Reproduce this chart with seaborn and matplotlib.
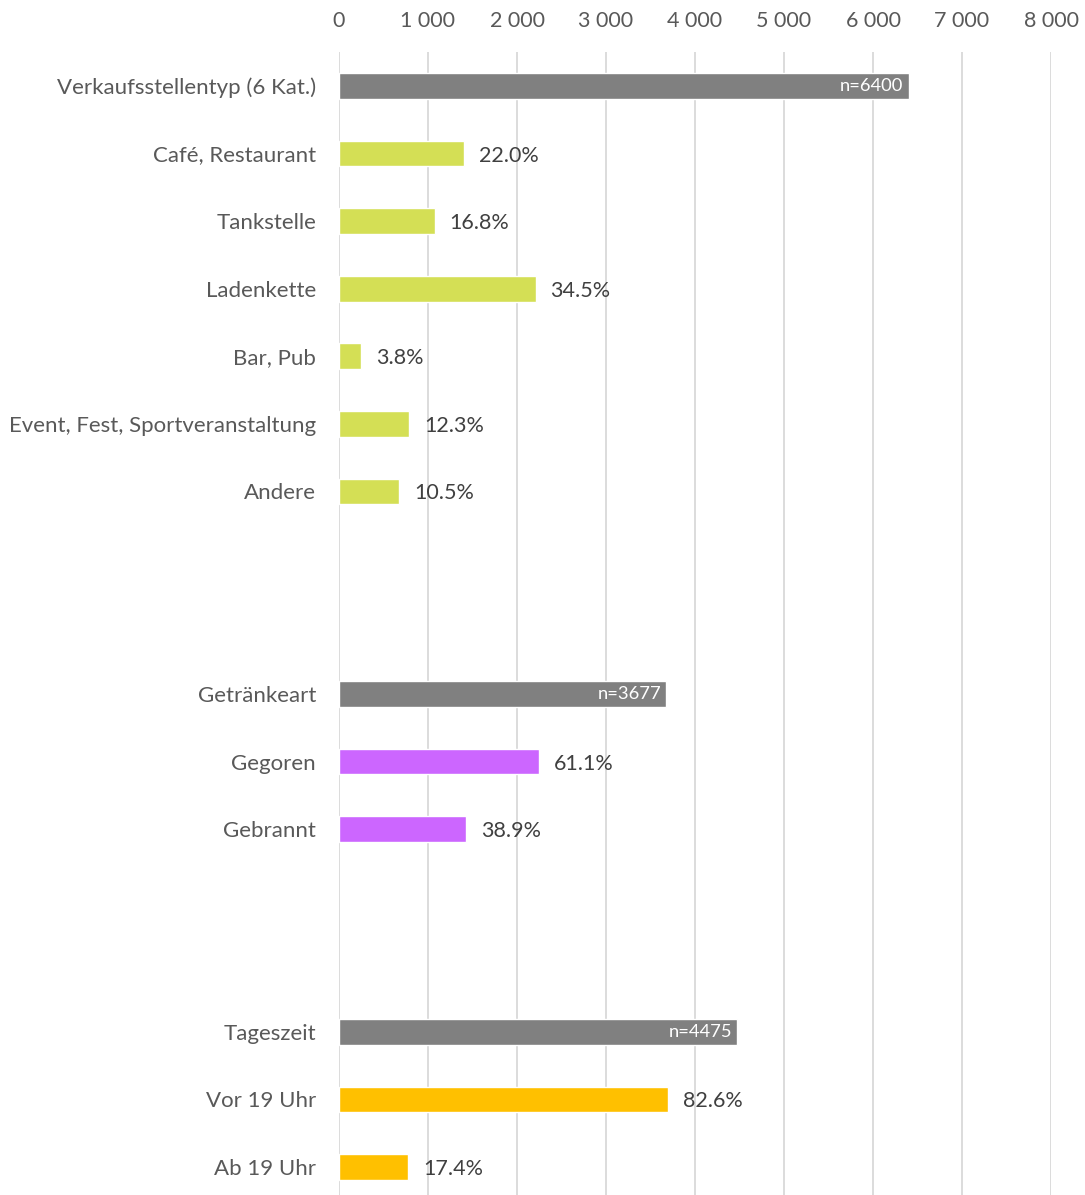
import matplotlib
matplotlib.use("Agg")
import matplotlib.pyplot as plt
import seaborn as sns
import pandas as pd

# Data
categories = ["Verkaufsstellentyp (6 Kat.)", "Café, Restaurant", "Tankstelle", "Ladenkette",
              "Bar, Pub", "Event, Fest, Sportveranstaltung", "Andere",
              "Getränkeart", "Gegoren", "Gebrannt",
              "Tageszeit", "Vor 19 Uhr", "Ab 19 Uhr"]
values = [6400, 1408, 1075, 2208, 243, 787, 672,
          3677, 2247, 1430,
          4475, 3696, 779]
groups = ["total", "venue", "venue", "venue", "venue", "venue", "venue",
          "total", "drink", "drink",
          "total", "time", "time"]
labels = ["n=6400", "22.0%", "16.8%", "34.5%", "3.8%", "12.3%", "10.5%",
          "n=3677", "61.1%", "38.9%",
          "n=4475", "82.6%", "17.4%"]
xticks = [0, 1000, 2000, 3000, 4000, 5000, 6000, 7000, 8000]

palette = {"total": "#808080", "venue": "#D4DF55", "drink": "#CC66FF", "time": "#FFC000"}

order = (categories[:7] + [" ", "  "] + categories[7:10] + ["   ", "    "] + categories[10:])

df = pd.DataFrame({"cat": categories, "val": values, "grp": groups, "lab": labels})

sns.set_style("white")
plt.rcParams["font.family"] = ["Lato", "DejaVu Sans"]

W, H = 1085, 1195
fig = plt.figure(figsize=(W / 100, H / 100), dpi=100)
ax_left, ax_right = 339, 1051
ax_top, ax_bot = 52.2, 1195
ax = fig.add_axes([ax_left / W, 1 - ax_bot / H, (ax_right - ax_left) / W, (ax_bot - ax_top) / H])

sns.barplot(data=df, y="cat", x="val", hue="grp", palette=palette, order=order,
            orient="h", dodge=False, width=0.38, legend=False, ax=ax, saturation=1)

ax.set_ylim(-0.5 + (ax_bot - ax_top) / ((1167 - 86) / 16), -0.5)
ax.set_xlim(0, 8000)
ax.set_xticks(xticks)
ax.set_xticklabels([f"{t:,}".replace(",", " ") for t in xticks])
ax.xaxis.tick_top()
ax.tick_params(axis="x", length=0, pad=15, labelsize=15.5, labelcolor="#595959")
ax.tick_params(axis="y", length=0, pad=16.5, labelsize=16, labelcolor="#595959")
ax.set_xlabel("")
ax.set_ylabel("")
ax.grid(axis="x", color="#D9D9D9", linewidth=1.3)
ax.set_axisbelow(True)
for s in ax.spines.values():
    s.set_visible(False)

px_per_unit = (ax_right - ax_left) / 8000
for cat, val, grp, lab in zip(categories, values, groups, labels):
    y = order.index(cat)
    if grp == "total":
        ax.text(val - 5 / px_per_unit, y, lab, ha="right", va="center",
                color="white", fontsize=13.2)
    else:
        ax.text(val + 15 / px_per_unit, y + 0.03, lab, ha="left", va="center",
                color="#404040", fontsize=15.5)

fig.savefig("out.png", dpi=100)
